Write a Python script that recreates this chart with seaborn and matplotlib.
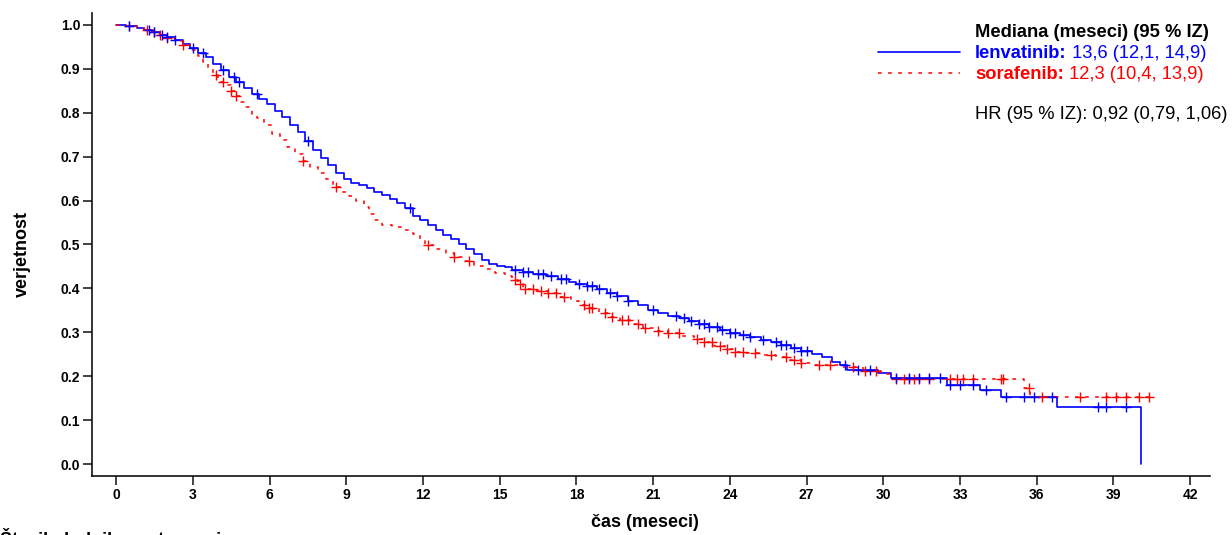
import numpy as np
import pandas as pd
import matplotlib
matplotlib.use("Agg")
import matplotlib.pyplot as plt
from matplotlib.lines import Line2D
import seaborn as sns

# ==========================================================
# DATA
# ==========================================================

len_time = [0, 0.4, 0.8, 1.1, 1.4, 1.7, 2.0, 2.3, 2.6, 2.9, 3.2, 3.5, 3.8,
            4.1, 4.4, 4.7, 5.0, 5.3, 5.6, 5.9, 6.2, 6.5, 6.8, 7.1, 7.4, 7.7,
            8.0, 8.3, 8.6, 8.9, 9.2, 9.5, 9.8, 10.1, 10.4, 10.7, 11.0, 11.3,
            11.6, 11.9, 12.2, 12.5, 12.8, 13.1, 13.4, 13.7, 14.0, 14.3, 14.6,
            14.9, 15.2, 15.5, 15.9, 16.3, 16.8, 17.3, 17.7, 18.0, 18.4, 18.8,
            19.2, 19.6, 20.0, 20.4, 20.8, 21.2, 21.6, 22.0, 22.4, 22.8, 23.2,
            23.6, 24.0, 24.4, 24.8, 25.2, 25.6, 26.0, 26.4, 26.8, 27.2, 27.6,
            28.0, 28.3, 28.6, 29.8, 30.3, 32.5, 33.8, 34.6, 36.8, 40.07]
len_surv = [1.0, 0.997, 0.993, 0.988, 0.983, 0.978, 0.972, 0.965, 0.957,
            0.948, 0.937, 0.926, 0.912, 0.898, 0.882, 0.87, 0.856, 0.843,
            0.832, 0.82, 0.805, 0.79, 0.772, 0.755, 0.735, 0.715, 0.698, 0.68,
            0.662, 0.648, 0.64, 0.635, 0.628, 0.62, 0.612, 0.604, 0.594, 0.582,
            0.566, 0.555, 0.545, 0.532, 0.522, 0.512, 0.502, 0.49, 0.478,
            0.465, 0.456, 0.452, 0.448, 0.442, 0.437, 0.432, 0.428, 0.422,
            0.415, 0.41, 0.405, 0.398, 0.39, 0.382, 0.372, 0.362, 0.352, 0.345,
            0.338, 0.332, 0.326, 0.318, 0.312, 0.305, 0.299, 0.294, 0.289,
            0.283, 0.277, 0.271, 0.264, 0.257, 0.25, 0.243, 0.233, 0.225,
            0.214, 0.207, 0.196, 0.18, 0.169, 0.152, 0.13, 0.0]

sor_time = [0, 0.4, 0.8, 1.1, 1.4, 1.7, 2.0, 2.3, 2.6, 2.9, 3.2, 3.4, 3.6,
            3.8, 4.0, 4.3, 4.5, 4.7, 4.9, 5.1, 5.3, 5.5, 5.8, 6.1, 6.4, 6.7,
            7.0, 7.3, 7.6, 7.9, 8.2, 8.5, 8.8, 9.1, 9.4, 9.7, 9.9, 10.1, 10.4,
            10.8, 11.2, 11.6, 11.9, 12.1, 12.5, 12.9, 13.2, 13.6, 14.0, 14.4,
            14.8, 15.2, 15.5, 15.7, 15.9, 16.4, 16.9, 17.4, 17.8, 18.1, 18.5,
            18.9, 19.3, 19.7, 20.1, 20.6, 21.1, 21.6, 22.1, 22.6, 23.0, 23.4,
            23.8, 24.2, 24.6, 25.2, 25.8, 26.3, 26.8, 27.2, 28.4, 29.2, 29.9,
            30.3, 35.5, 35.75, 40.55]
sor_surv = [1.0, 0.997, 0.993, 0.988, 0.983, 0.978, 0.971, 0.963, 0.954,
            0.942, 0.928, 0.915, 0.9, 0.885, 0.87, 0.862, 0.85, 0.838, 0.825,
            0.812, 0.798, 0.787, 0.772, 0.752, 0.738, 0.722, 0.706, 0.69,
            0.676, 0.662, 0.648, 0.632, 0.62, 0.61, 0.598, 0.585, 0.57, 0.556,
            0.545, 0.54, 0.534, 0.525, 0.51, 0.498, 0.49, 0.48, 0.471, 0.462,
            0.452, 0.444, 0.436, 0.428, 0.42, 0.41, 0.398, 0.393, 0.39, 0.381,
            0.372, 0.363, 0.355, 0.345, 0.335, 0.327, 0.32, 0.31, 0.304, 0.298,
            0.292, 0.285, 0.278, 0.27, 0.262, 0.255, 0.252, 0.248, 0.243,
            0.237, 0.23, 0.225, 0.22, 0.213, 0.205, 0.194, 0.173, 0.153, 0.153]

len_censor = [0.5, 1.3, 1.5, 1.8, 2.0, 2.3, 3.0, 3.4, 4.2, 4.6, 4.8, 5.5, 7.5,
              11.5, 15.6, 15.9, 16.1, 16.5, 16.7, 17.0, 17.4, 17.6, 18.1, 18.4,
              18.6, 18.9, 19.3, 19.6, 20.0, 21.0, 21.9, 22.2, 22.5, 22.8, 23.0,
              23.2, 23.5, 23.7, 24.0, 24.2, 24.5, 24.8, 25.3, 25.8, 26.0, 26.2,
              26.5, 26.8, 27.0, 28.5, 29.0, 29.5, 30.5, 31.0, 31.4, 31.8, 32.2,
              32.6, 33.0, 33.5, 34.0, 34.8, 35.5, 35.9, 36.6, 38.4, 38.7, 39.5]
sor_censor = [0.5, 1.2, 1.5, 1.7, 2.0, 2.6, 3.9, 4.2, 4.5, 4.7, 7.3, 8.6, 12.2,
              13.2, 13.8, 15.6, 15.8, 16.0, 16.3, 16.6, 16.9, 17.2, 17.5, 18.3,
              18.5, 18.6, 19.1, 19.4, 19.8, 20.0, 20.4, 20.7, 21.2, 21.6, 22.0,
              22.7, 23.0, 23.3, 23.6, 23.9, 24.2, 24.5, 25.0, 25.6, 26.2, 26.5,
              26.8, 27.5, 27.9, 28.8, 29.3, 29.7, 30.5, 30.8, 31.0, 31.2, 31.4,
              31.8, 32.6, 32.9, 33.1, 33.5, 34.6, 34.7, 35.7, 36.2, 37.7, 38.7,
              39.1, 39.5, 40.0, 40.4]

x_ticks = list(range(0, 43, 3))
y_ticks = [0.0, 0.1, 0.2, 0.3, 0.4, 0.5, 0.6, 0.7, 0.8, 0.9, 1.0]

BLUE = "#0000ff"
RED = "#ff0000"


def step_value(times, surv, t):
    idx = np.searchsorted(times, t, side="right") - 1
    return np.asarray(surv)[idx]


len_df = pd.DataFrame({"t": len_time, "s": len_surv})
sor_df = pd.DataFrame({"t": sor_time, "s": sor_surv})
len_cens = pd.DataFrame({"t": len_censor,
                         "s": step_value(len_time, len_surv, len_censor)})
sor_cens = pd.DataFrame({"t": sor_censor,
                         "s": step_value(sor_time, sor_surv, sor_censor)})

# ==========================================================
# STYLE
# ==========================================================

sns.set_style("ticks")
plt.rcParams["font.family"] = ["Liberation Sans", "DejaVu Sans"]
plt.rcParams["text.color"] = "black"
plt.rcParams["axes.labelcolor"] = "black"
plt.rcParams["xtick.color"] = "black"
plt.rcParams["ytick.color"] = "black"

fig = plt.figure(figsize=(12.32, 5.35), dpi=100)
ax = fig.add_axes([0.0747, 0.1103, 0.9075, 0.8654])

# ==========================================================
# CURVES
# ==========================================================

sns.lineplot(data=len_df, x="t", y="s", ax=ax, color=BLUE, lw=1.2,
             drawstyle="steps-post", estimator=None, sort=False)
sns.lineplot(data=sor_df, x="t", y="s", ax=ax, color=RED, lw=1.1,
             drawstyle="steps-post", estimator=None, sort=False,
             linestyle=(0, (2.4, 4.2)))

sns.scatterplot(data=sor_cens, x="t", y="s", ax=ax, marker="+", s=45,
                color=RED, linewidth=1.0, zorder=3)
sns.scatterplot(data=len_cens, x="t", y="s", ax=ax, marker="+", s=45,
                color=BLUE, linewidth=1.0, zorder=4)

# ==========================================================
# AXES
# ==========================================================

ax.set_xlim(-0.94, 42.78)
ax.set_ylim(-0.027, 1.027)
ax.set_xticks(x_ticks)
ax.set_yticks(y_ticks)
ax.set_yticklabels([f"{v:.1f}" for v in y_ticks])
ax.tick_params(axis="both", direction="out", length=6.5, width=1.2,
               labelsize=10, pad=2, color="#222222")
for lab in ax.get_xticklabels() + ax.get_yticklabels():
    lab.set_fontweight("bold")
for side in ["left", "bottom"]:
    ax.spines[side].set_linewidth(1.2)
    ax.spines[side].set_color("#111111")
sns.despine(ax=ax)

ax.set_xlabel("čas (meseci)", fontsize=13, fontweight="bold")
ax.set_ylabel("verjetnost", fontsize=13, fontweight="bold")
ax.xaxis.set_label_coords(0.4946, -0.1015)
ax.xaxis.label.set_va("center")
ax.yaxis.set_label_coords(-0.0626, 0.479)
ax.yaxis.label.set_va("center")

# ==========================================================
# LEGEND / ANNOTATIONS
# ==========================================================

fig.add_artist(Line2D([0.7127, 0.7792], [0.9028, 0.9028], color=BLUE,
                      lw=1.2, transform=fig.transFigure))
fig.add_artist(Line2D([0.7127, 0.7792], [0.8636, 0.8636], color=RED,
                      lw=1.1, linestyle=(0, (2.4, 4.2)),
                      transform=fig.transFigure))

tx = 0.7914
fsize = 13.2
fig.text(tx, 0.9303, "Mediana (meseci) (95 % IZ)", fontsize=fsize,
         fontweight="bold", va="baseline")

renderer = fig.canvas.get_renderer()
rows = [("lenvatinib:", " 13,6 (12,1, 14,9)", BLUE, 0.891),
        ("sorafenib:", " 12,3 (10,4, 13,9)", RED, 0.8523)]
for bold_part, rest, col, yy in rows:
    t1 = fig.text(tx, yy, bold_part, fontsize=fsize, fontweight="bold",
                  color=col, va="baseline")
    w = t1.get_window_extent(renderer=renderer).width / fig.bbox.width
    fig.text(tx + w, yy, rest, fontsize=fsize, color=col, va="baseline")

fig.text(tx, 0.7776, "HR (95 % IZ): 0,92 (0,79, 1,06)", fontsize=fsize,
         va="baseline")

# caption cut off at the bottom edge, as in the source figure
fig.text(0.0, -0.019, "Število bolnikov s tveganjem", fontsize=13,
         fontweight="bold", va="baseline")

fig.savefig("out.png", dpi=100)
